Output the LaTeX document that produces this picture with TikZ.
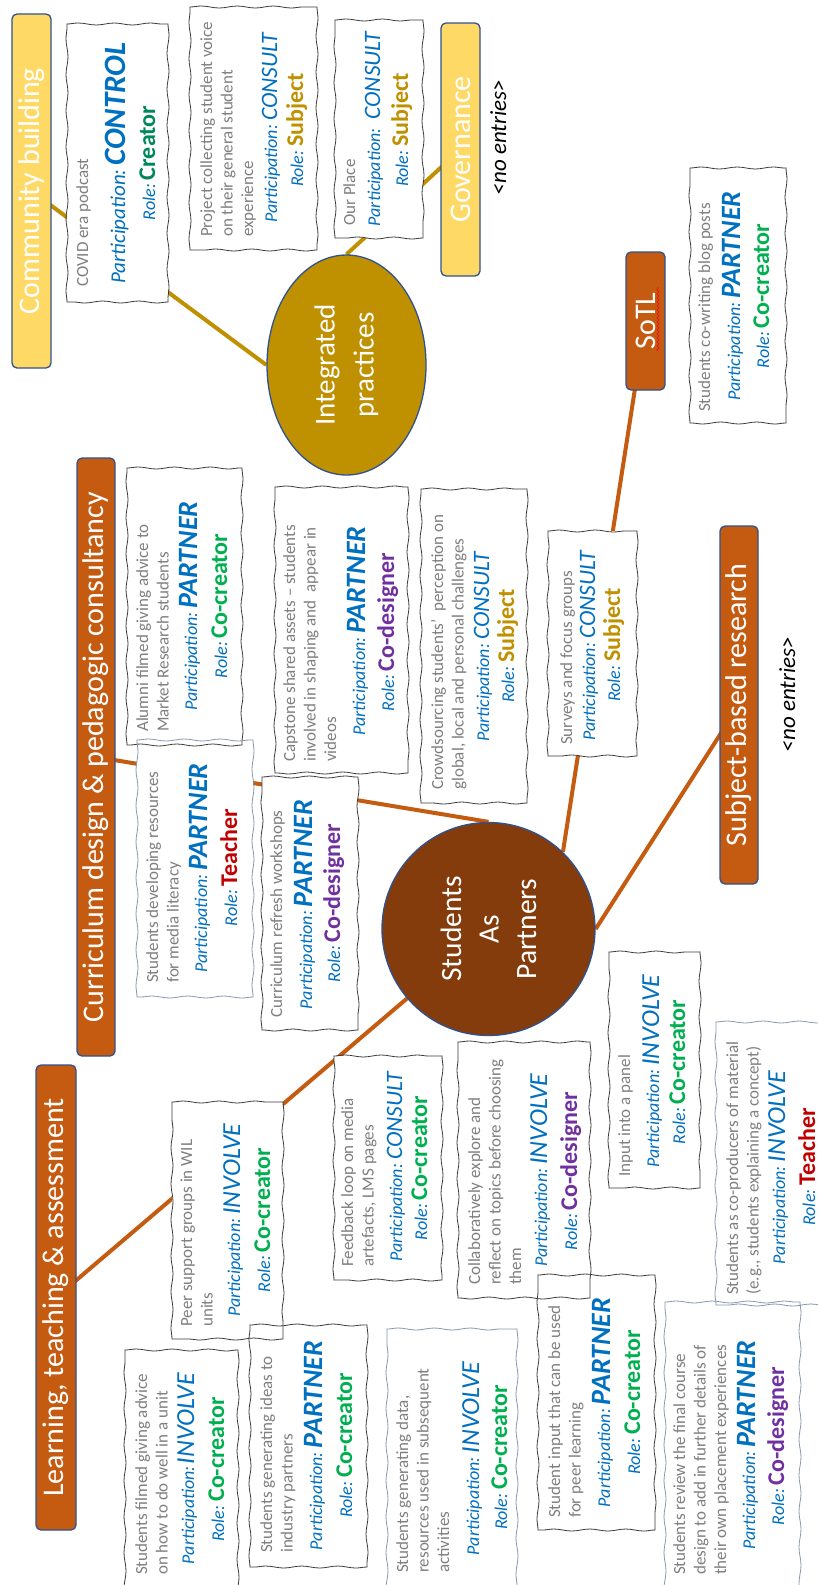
\documentclass[tikz,border=0pt]{standalone}
\usepackage{fontspec}
\setmainfont{Carlito}
\usetikzlibrary{shapes.geometric,decorations.pathmorphing}
\pgfdeclarelayer{bg}\pgfdeclarelayer{conn}\pgfdeclarelayer{cfill}\pgfdeclarelayer{cline}
\pgfsetlayers{bg,conn,cfill,cline,main}
\definecolor{torange}{HTML}{C55A11}
\definecolor{tyellow}{HTML}{FFD966}
\definecolor{tborder}{HTML}{2F528F}
\definecolor{gold}{HTML}{BF9000}
\definecolor{sapbrown}{HTML}{843C0C}
\definecolor{pblue}{HTML}{0070C0}
\definecolor{bgray}{HTML}{7F7F7F}
\definecolor{cogreen}{HTML}{00B050}
\definecolor{crteal}{HTML}{00875A}
\definecolor{subjgold}{HTML}{BF9000}
\definecolor{purp}{HTML}{7030A0}
\definecolor{tred}{HTML}{C00000}
\definecolor{cardblue}{HTML}{8497B0}
\definecolor{cardblack}{HTML}{3A3A3A}
\newcommand\Pa{{\itshape\fontsize{18}{20}\selectfont Participation:}}
\newcommand\PaL{{\itshape\fontsize{21}{23}\selectfont Participation:}}
\newcommand\vPARTNER{{\bfseries\itshape\fontsize{28}{30}\selectfont PARTNER}}
\newcommand\vINVOLVE{{\itshape\fontsize{26}{28}\selectfont INVOLVE}}
\newcommand\vCONSULT{{\itshape\fontsize{23.5}{26}\selectfont CONSULT}}
\newcommand\vCONTROL{{\bfseries\itshape\fontsize{31}{33}\selectfont CONTROL}}
\newcommand\Ro{{\itshape\fontsize{18}{20}\selectfont Role:}}
\newcommand\rv[2]{{\bfseries\fontsize{24}{26}\selectfont\color{#1}#2}}
\newcommand\bt[1]{\parbox[t]{330pt}{\raggedright #1}}
\newcommand\card[5]{%
 \begin{pgfonlayer}{cfill}\fill[white] (#1,-#2) rectangle (#3,-#4);\end{pgfonlayer}%
 \begin{pgfonlayer}{cline}%
 \draw[wavy, draw=#5] (#1,-#2) -- (#3,-#2);%
 \draw[wavy, draw=#5] (#3,-#2) -- (#3,-#4);%
 \draw[wavy, draw=#5] (#3,-#4) -- (#1,-#4);%
 \draw[wavy, draw=#5] (#1,-#4) -- (#1,-#2);%
 \end{pgfonlayer}}
\tikzset{
 title/.style={rotate=90, draw=tborder, line width=1.3pt, rounded corners=5pt, text=white, font=\fontsize{30}{32}\selectfont, inner sep=0pt},
 otitle/.style={title, fill=torange},
 ytitle/.style={title, fill=tyellow},
 body/.style={rotate=90, inner sep=0pt, anchor=base west, text=bgray, font=\fontsize{17}{20.5}\selectfont},
 pline/.style={rotate=90, inner sep=0pt, anchor=base, text=pblue},
 noent/.style={rotate=90, inner sep=0pt, anchor=base, font=\itshape\fontsize{23}{25}\selectfont},
 wavy/.style={decorate, decoration={snake, amplitude=1pt, segment length=36pt}, line width=0.8pt, line cap=round},
 goldline/.style={draw=gold, line width=4pt},
 orline/.style={draw=torange, line width=4pt},
}
\begin{document}
\begin{tikzpicture}[x=1pt,y=1pt]
\useasboundingbox (0,-1585) rectangle (817,0);
\begin{pgfonlayer}{bg}\fill[white] (0,-1585) rectangle (817,0);\end{pgfonlayer}
% titles
\node[ytitle, minimum width=354pt, minimum height=39pt] (cb) at (31.5,-191) {Community building};
\node[ytitle, minimum width=253pt, minimum height=39pt] (gov) at (460.5,-149.5) {Governance};
\node[otitle, minimum width=598pt, minimum height=38pt] (cur) at (96,-757) {Curriculum design \& pedagogic consultancy};
\node[otitle, minimum width=465pt, minimum height=40pt] (lta) at (56,-1297.5) {Learning, teaching \& assessment};
\node[otitle, minimum width=138pt, minimum height=39pt] (sotl) at (645.5,-321) {SoTL};
\node[otitle, minimum width=358pt, minimum height=38pt] (sbr) at (739,-705) {Subject-based research};
\draw[red, line width=0.6pt, decorate, decoration={snake, amplitude=1pt, segment length=4pt}] (658,-351) -- (658,-287);
% hubs
\node[ellipse, rotate=90, draw=tborder, line width=1.3pt, fill=gold, minimum width=220pt, minimum height=159pt, inner sep=0pt, text=white, align=center, font=\fontsize{29}{39}\selectfont] (ip) at (346.5,-365) {Integrated\\practices};
\node[circle, rotate=90, draw=tborder, line width=1.3pt, fill=sapbrown, minimum size=213pt, inner sep=0pt, text=white, align=center, font=\fontsize{29.5}{37.5}\selectfont] (sap) at (488.5,-929) {Students\\As\\Partners};
% connectors
\begin{pgfonlayer}{conn}
\draw[goldline] (cb.center) -- (ip.north);
\draw[goldline] (ip.east) -- (gov.center);
\draw[orline] (lta.center) -- (sap.center);
\draw[orline] (cur.center) -- (sap.east);
\draw[orline] (sap.-44) -- (sotl.center);
\draw[orline] (sap.south) -- (sbr.center);
\end{pgfonlayer}
% A COVID
\card{67}{24}{168}{302}{cardblack}
\node[body] (tA) at (88,-287) {\bt{COVID era podcast}};
\node[pline] (pA) at (125,-163) {\PaL\hspace{4pt}\vCONTROL};
\node[pline] (rA) at (155,-163) {\Ro\hspace{4pt}\rv{crteal}{Creator}};
% B Project
\card{190}{7}{317}{250}{cardblack}
\node[body] (tB) at (212,-237) {\bt{Project collecting student voice\\on their general student\\experience}};
\node[pline] (pB) at (277,-128) {\Pa\hspace{4pt}\vCONSULT};
\node[pline] (rB) at (303,-130) {\Ro\hspace{4pt}\rv{subjgold}{Subject}};
% C Our Place
\card{335}{20}{423}{238}{cardblack}
\node[body] (tC) at (355,-226) {\bt{Our Place}};
\node[pline] (pC) at (380,-129) {\Pa\hspace{9pt}\vCONSULT};
\node[pline] (rC) at (408,-130) {\Ro\hspace{4pt}\rv{subjgold}{Subject}};
% D Alumni
\card{127}{468}{242}{745}{cardblack}
\node[body] (tD) at (148,-732) {\bt{Alumni filmed giving advice to\\Market Research students}};
\node[pline] (pD) at (197,-606) {\Pa\hspace{4pt}\vPARTNER};
\node[pline] (rD) at (227,-606) {\Ro\hspace{4pt}\rv{cogreen}{Co-creator}};
% E Capstone
\card{275}{487}{408}{773}{cardblack}
\node[body] (tE) at (295,-762) {\bt{Capstone shared assets – students\\involved in shaping and\hspace{4pt} appear in\\videos}};
\node[pline] (pE) at (365,-631) {\Pa\hspace{4pt}\vPARTNER};
\node[pline] (rE) at (394,-632) {\Ro\hspace{4pt}\rv{purp}{Co-designer}};
% F Crowdsourcing
\card{421}{489}{527}{803}{cardblack}
\node[body] (tF) at (443,-790) {\bt{Crowdsourcing students’\hspace{4pt} perception on\\global, local and personal challenges}};
\node[pline] (pF) at (489,-647) {\Pa\hspace{4pt}\vCONSULT};
\node[pline] (rF) at (514,-646) {\Ro\hspace{4pt}\rv{subjgold}{Subject}};
% G Surveys
\card{548}{531}{637}{756}{cardblack}
\node[body] (tG) at (572,-745) {\bt{Surveys and focus groups}};
\node[pline] (pG) at (595,-646) {\Pa\hspace{4pt}\vCONSULT};
\node[pline] (rG) at (620,-645) {\Ro\hspace{4pt}\rv{subjgold}{Subject}};
% H blog
\card{690}{168}{786}{423}{cardblack}
\node[body] (tH) at (710,-412) {\bt{Students co-writing blog posts}};
\node[pline] (pH) at (740,-296) {\Pa\hspace{4pt}\vPARTNER};
\node[pline] (rH) at (769,-296) {\Ro\hspace{4pt}\rv{cogreen}{Co-creator}};
% I resources
\card{137}{740}{253}{997}{cardblue}
\node[body] (tI) at (158,-983) {\bt{Students developing resources\\for media literacy}};
\node[pline] (pI) at (207,-868) {\Pa\hspace{4pt}\vPARTNER};
\node[pline] (rI) at (237,-867.5) {\Ro\hspace{4pt}\rv{tred}{Teacher}};
% J refresh
\card{262}{777}{358}{1030}{cardblack}
\node[body] (tJ) at (282,-1018) {\bt{Curriculum refresh workshops}};
\node[pline] (pJ) at (312,-904.5) {\Pa\hspace{4pt}\vPARTNER};
\node[pline] (rJ) at (340,-903) {\Ro\hspace{4pt}\rv{purp}{Co-designer}};
% K peer
\card{172}{1102}{283}{1339}{cardblack}
\node[body] (tK) at (192,-1327) {\bt{Peer support groups in WIL\\units}};
\node[pline] (pK) at (240,-1220) {\Pa\hspace{4pt}\vINVOLVE};
\node[pline] (rK) at (270,-1220) {\Ro\hspace{4pt}\rv{cogreen}{Co-creator}};
% L feedback
\card{334}{1056}{442}{1280}{cardblack}
\node[body] (tL) at (353,-1267) {\bt{Feedback loop on media\\artefacts, LMS pages}};
\node[pline] (pL) at (402,-1167) {\Pa\hspace{4pt}\vCONSULT};
\node[pline] (rL) at (427,-1168) {\Ro\hspace{4pt}\rv{cogreen}{Co-creator}};
% M collab
\card{458}{1042}{590}{1298}{cardblack}
\node[body] (tM) at (480,-1285) {\bt{Collaboratively explore and\\reflect on topics before choosing\\them}};
\node[pline] (pM) at (547,-1170) {\Pa\hspace{4pt}\vINVOLVE};
\node[pline] (rM) at (577,-1171) {\Ro\hspace{4pt}\rv{purp}{Co-designer}};
% N panel
\card{609}{952}{700}{1188}{cardblack}
\node[body] (tN) at (630,-1177) {\bt{Input into a panel}};
\node[pline] (pN) at (659,-1071) {\Pa\hspace{4pt}\vINVOLVE};
\node[pline] (rN) at (685,-1072) {\Ro\hspace{4pt}\rv{cogreen}{Co-creator}};
% O co-producers
\card{716}{1022}{840}{1305}{cardblue}
\node[body] (tO) at (738,-1295) {\bt{Students as co-producers of material\\(e.g., students explaining a concept)}};
\node[pline] (pO) at (785,-1167.5) {\Pa\hspace{4pt}\vINVOLVE};
\node[pline] (rO) at (815,-1167) {\Ro\hspace{4pt}\rv{tred}{Teacher}};
% P filmed
\card{125}{1350}{238}{1600}{cardblack}
\node[body] (tP) at (147,-1575) {\bt{Students filmed giving advice\\on how to do well in a unit}};
\node[pline] (pP) at (194,-1468.5) {\Pa\hspace{2pt}\vINVOLVE};
\node[pline] (rP) at (224,-1469.5) {\Ro\hspace{4pt}\rv{cogreen}{Co-creator}};
% Q ideas
\card{250}{1325}{367}{1567}{cardblack}
\node[body] (tQ) at (272,-1553) {\bt{Students generating ideas to\\industry partners}};
\node[pline] (pQ) at (322,-1445.5) {\Pa\hspace{4pt}\vPARTNER};
\node[pline] (rQ) at (352,-1445.5) {\Ro\hspace{4pt}\rv{cogreen}{Co-creator}};
% R data
\card{387}{1329}{517}{1600}{cardblue}
\node[body] (tR) at (408,-1573) {\bt{Students generating data,\\resources used in subsequent\\activities}};
\node[pline] (pR) at (479,-1458.5) {\Pa\hspace{4pt}\vINVOLVE};
\node[pline] (rR) at (507,-1457.5) {\Ro\hspace{4pt}\rv{cogreen}{Co-creator}};
% S input
\card{538}{1275}{655}{1530}{cardblack}
\node[body] (tS) at (560,-1518) {\bt{Student input that can be used\\for peer learning}};
\node[pline] (pS) at (610,-1402.5) {\Pa\hspace{4pt}\vPARTNER};
\node[pline] (rS) at (640,-1402.5) {\Ro\hspace{4pt}\rv{cogreen}{Co-creator}};
% T review
\card{665}{1302}{800}{1600}{cardblue}
\node[body] (tT) at (685,-1575) {\bt{Students review the final course\\design to add in further details of\\their own placement experiences}};
\node[pline] (pT) at (755,-1445) {\Pa\hspace{4pt}\vPARTNER};
\node[pline] (rT) at (784,-1446) {\Ro\hspace{4pt}\rv{purp}{Co-designer}};
% no entries
\node[noent] (ne1) at (506,-137.5) {<no entries>};
\node[noent] (ne2) at (795,-694.5) {<no entries>};
\end{tikzpicture}
\end{document}
